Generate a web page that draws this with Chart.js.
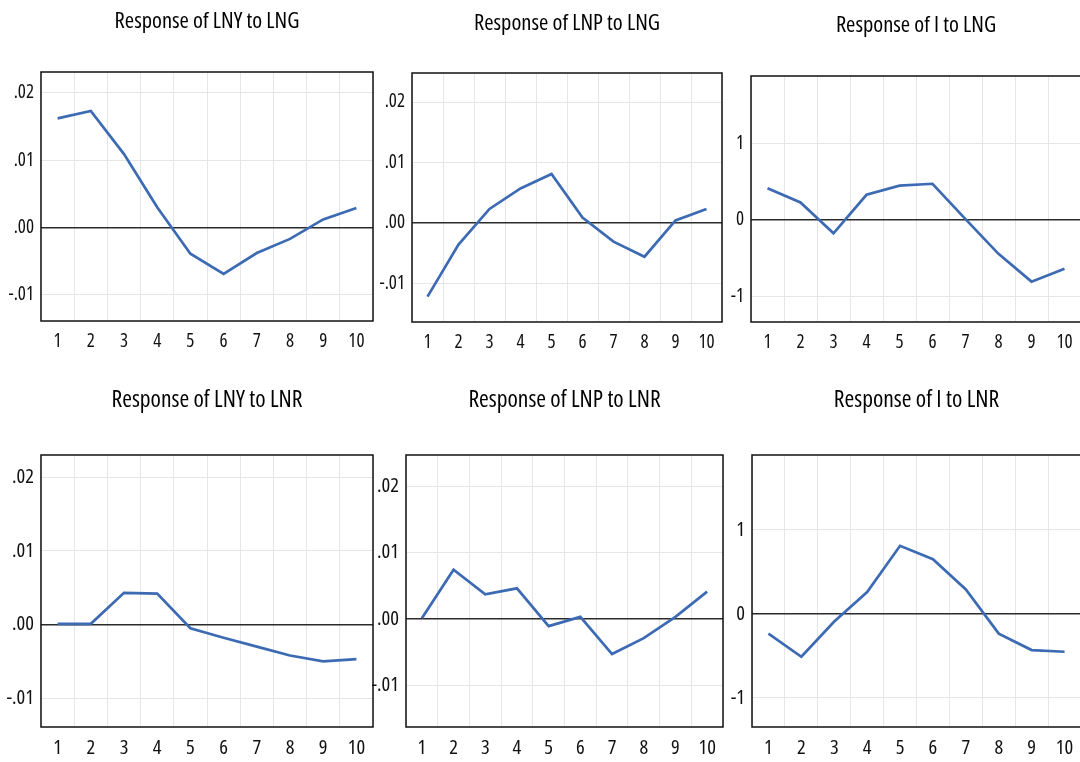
<!DOCTYPE html>
<html>
<head>
<meta charset="utf-8">
<title>Impulse responses</title>
<script src="https://cdn.jsdelivr.net/npm/chart.js@4.4.1/dist/chart.umd.min.js"></script>
<style>
  html, body { margin: 0; padding: 0; background: #ffffff; }
  body { width: 1080px; height: 762px; overflow: hidden; position: relative; }
  canvas { position: absolute; }
</style>
</head>
<body>
<canvas id="c1"></canvas>
<canvas id="c2"></canvas>
<canvas id="c3"></canvas>
<canvas id="c4"></canvas>
<canvas id="c5"></canvas>
<canvas id="c6"></canvas>
<script>
// Forecast horizon (periods after the shock)
const periods = ['1', '2', '3', '4', '5', '6', '7', '8', '9', '10'];

// Responses to a shock in LNG
const lnyToLng = [0.0162, 0.0173, 0.0109, 0.0030, -0.0039, -0.0069, -0.0038, -0.0017, 0.0012, 0.0029];
const lnpToLng = [-0.0122, -0.0036, 0.0023, 0.0057, 0.0081, 0.0009, -0.0031, -0.0056, 0.0004, 0.0023];
const iToLng   = [0.415, 0.23, -0.175, 0.33, 0.45, 0.475, 0.01, -0.445, -0.81, -0.64];

// Responses to a shock in LNR
const lnyToLnr = [0.0001, 0.0001, 0.0043, 0.0042, -0.0005, -0.0018, -0.0030, -0.0042, -0.0050, -0.0047];
const lnpToLnr = [0.0001, 0.0074, 0.0037, 0.0046, -0.0011, 0.0003, -0.0053, -0.0029, 0.0003, 0.0041];
const iToLnr   = [-0.235, -0.51, -0.09, 0.26, 0.81, 0.65, 0.29, -0.235, -0.43, -0.45];

// Vertical axis ticks
const logTicks = [0.02, 0.01, 0, -0.01];
const logTickLabels = ['.02', '.01', '.00', '-.01'];
const rateTicks = [1, 0, -1];
const rateTickLabels = ['1', '0', '-1'];

// Condensed face of Open Sans, passed through the weight slot of the font shorthand
const FONT = "'Open Sans', sans-serif";
const STRETCH = 'condensed';
const LINE_BLUE = '#3d6bb3';
const AXIS_W = 48;     // room for the value labels left of each frame
const SIDE_PAD = 4;    // keeps the right edge of the frame inside the canvas

// Frame round the plotting area
const framePlugin = {
  id: 'frame',
  afterDatasetsDraw(chart) {
    const a = chart.chartArea;
    const ctx = chart.ctx;
    ctx.save();
    ctx.strokeStyle = '#111111';
    ctx.lineWidth = 1.5;
    ctx.strokeRect(a.left, a.top, a.right - a.left, a.bottom - a.top);
    ctx.restore();
  }
};

const panels = [
  { id: 'c1', title: 'Response of LNY to LNG', values: lnyToLng, ticks: logTicks, labels: logTickLabels,
    min: -0.0139, max: 0.0231, L: 41, T: 72, R: 373, B: 321, top: 0, titleY: 22, tickFont: 19, titleFont: 22.5 },
  { id: 'c2', title: 'Response of LNP to LNG', values: lnpToLng, ticks: logTicks, labels: logTickLabels,
    min: -0.0164, max: 0.0248, L: 412, T: 73, R: 722, B: 322, top: 0, titleY: 24, tickFont: 19, titleFont: 22.5 },
  { id: 'c3', title: 'Response of I to LNG', values: iToLng, ticks: rateTicks, labels: rateTickLabels,
    min: -1.34, max: 1.89, L: 751, T: 76, R: 1081, B: 322, top: 0, titleY: 26, tickFont: 19, titleFont: 22.5 },
  { id: 'c4', title: 'Response of LNY to LNR', values: lnyToLnr, ticks: logTicks, labels: logTickLabels,
    min: -0.0139, max: 0.0230, L: 41, T: 455, R: 373, B: 727, top: 380, titleY: 400, tickFont: 20.5, titleFont: 23.5 },
  { id: 'c5', title: 'Response of LNP to LNR', values: lnpToLnr, ticks: logTicks, labels: logTickLabels,
    min: -0.0163, max: 0.0247, L: 406, T: 455, R: 723, B: 727, top: 380, titleY: 400, tickFont: 20.5, titleFont: 23.5 },
  { id: 'c6', title: 'Response of I to LNR', values: iToLnr, ticks: rateTicks, labels: rateTickLabels,
    min: -1.345, max: 1.89, L: 752, T: 455, R: 1081, B: 727, top: 380, titleY: 400, tickFont: 20.5, titleFont: 23.5 }
];

panels.forEach(p => {
  const canvas = document.getElementById(p.id);
  const left = p.L - AXIS_W;
  const width = (p.R - left) + SIDE_PAD;
  const xAxisH = 40;
  const height = (p.B - p.top) + xAxisH;
  canvas.width = width;
  canvas.height = height;
  canvas.style.left = left + 'px';
  canvas.style.top = p.top + 'px';
  canvas.style.width = width + 'px';
  canvas.style.height = height + 'px';

  const lineH = p.titleFont * 1.2;
  const padTop = (p.titleY - p.top) - lineH / 2;
  const padBottom = (p.T - p.top) - padTop - lineH;

  new Chart(canvas, {
    type: 'line',
    data: {
      labels: periods,
      datasets: [{
        data: p.values,
        borderColor: LINE_BLUE,
        borderWidth: 2.7,
        pointRadius: 0,
        tension: 0,
        fill: false
      }]
    },
    options: {
      responsive: false,
      animation: false,
      devicePixelRatio: 1,
      layout: { padding: { left: 0, right: SIDE_PAD, top: 0, bottom: 0 } },
      plugins: {
        legend: { display: false },
        tooltip: { enabled: false },
        title: {
          display: true,
          fullSize: false,   // centre the title over the frame, not the canvas
          text: p.title,
          color: '#000000',
          font: { family: FONT, size: p.titleFont, weight: STRETCH },
          padding: { top: padTop, bottom: padBottom }
        }
      },
      scales: {
        x: {
          type: 'category',
          offset: true,
          grid: { offset: true, color: '#e6e6e6', lineWidth: 1, drawTicks: false },
          border: { display: false },
          ticks: {
            color: '#111111',
            font: { family: FONT, size: p.tickFont, weight: STRETCH },
            padding: 9,
            maxRotation: 0,
            autoSkip: false
          },
          afterFit(scale) { scale.height = xAxisH; }
        },
        y: {
          type: 'linear',
          min: p.min,
          max: p.max,
          grid: {
            drawTicks: false,
            color: c => (c.tick && c.tick.value === 0 ? '#2b2b2b' : '#e6e6e6'),
            lineWidth: c => (c.tick && c.tick.value === 0 ? 1.4 : 1)
          },
          border: { display: false },
          afterBuildTicks(scale) {
            scale.ticks = p.ticks.map(v => ({ value: v }));
          },
          ticks: {
            color: '#111111',
            font: { family: FONT, size: p.tickFont, weight: STRETCH },
            padding: 7,
            callback: (value) => {
              const i = p.ticks.findIndex(t => Math.abs(t - value) < 1e-9);
              return i >= 0 ? p.labels[i] : '';
            }
          },
          afterFit(scale) { scale.width = AXIS_W; }
        }
      }
    },
    plugins: [framePlugin]
  });
});
</script>
</body>
</html>
